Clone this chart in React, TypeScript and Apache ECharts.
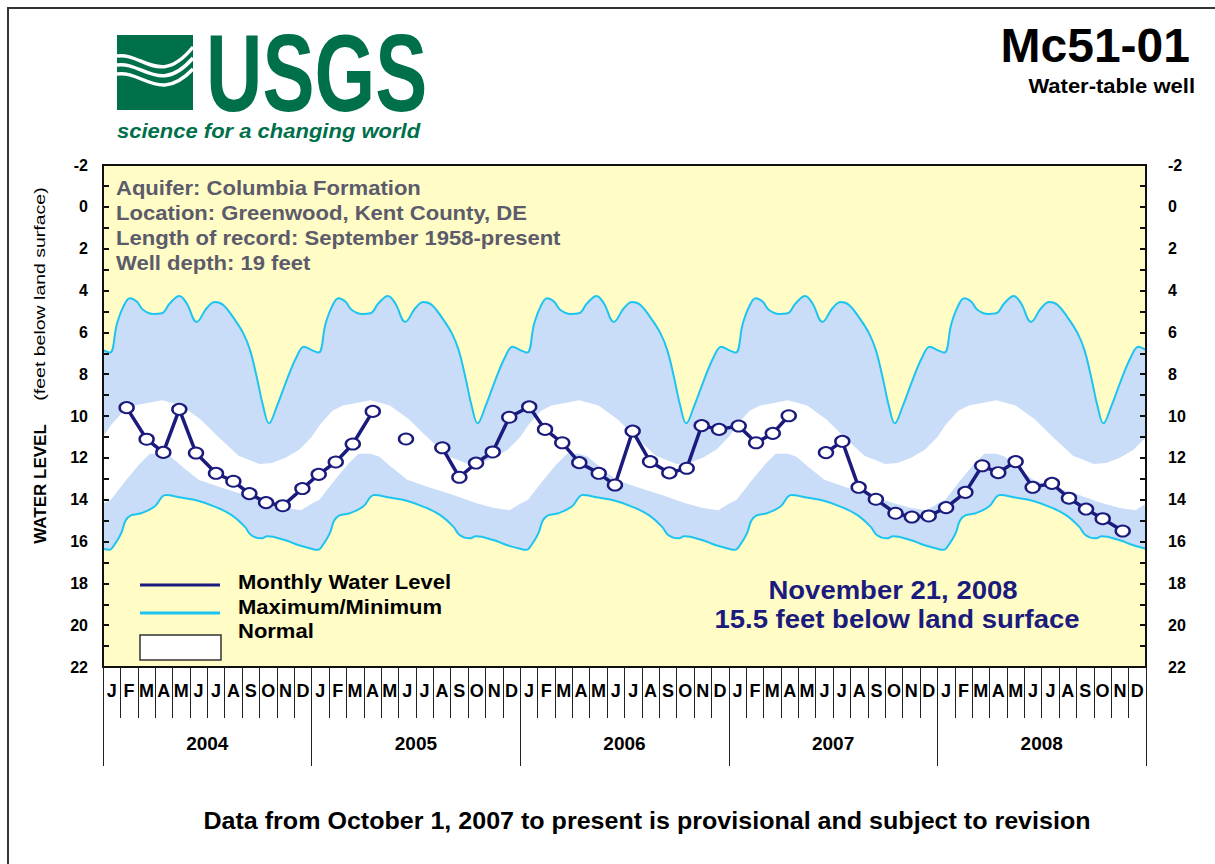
import React, { useEffect, useRef } from 'react';
import * as echarts from 'echarts';

// ---- Axis categories ----
const MONTH_LETTERS = ['J', 'F', 'M', 'A', 'M', 'J', 'J', 'A', 'S', 'O', 'N', 'D'];
const YEARS = ['2004', '2005', '2006', '2007', '2008'];
const Y_MIN = -2;
const Y_MAX = 22;

// ---- Period-of-record statistics by time of year (months after Jan 1, depth in ft) ----
const MAX_T = [0, 0.4, 0.8, 1.17, 1.55, 1.94, 2.32, 2.9, 3.38, 3.85, 4.39, 4.81, 5.39, 5.96, 6.44, 6.92, 7.5, 8.07, 8.46, 8.84, 9.22, 9.55, 9.99, 10.57, 11.14, 11.56];
const MAX_V = [6.85, 6.97, 5.6, 4.77, 4.37, 4.53, 4.93, 5.12, 5.09, 4.61, 4.26, 4.61, 5.5, 4.85, 4.55, 4.69, 5.3, 6.05, 6.85, 8.12, 9.56, 10.35, 9.56, 8.28, 7.17, 6.69];

const MIN_T = [0, 0.35, 0.7, 1.05, 1.3, 1.6, 2.2, 2.97, 3.6, 4.5, 5.47, 6.42, 7.38, 8.15, 8.53, 9.1, 9.45, 10.45, 11.22];
const MIN_V = [16.35, 16.4, 16.1, 15.6, 15.0, 14.75, 14.65, 14.33, 13.78, 13.9, 14.05, 14.33, 14.73, 15.29, 15.7, 15.85, 15.75, 15.93, 16.17];

const NORMAL_TOP_T = [0, 0.5, 1.2, 1.8, 3.4, 4.5, 5.6, 6.7, 7.8, 9.0, 9.7, 10.5, 11.3];
const NORMAL_TOP_V = [11.0, 10.4, 9.75, 9.5, 9.25, 9.5, 10.15, 11.05, 11.9, 12.3, 12.25, 12.0, 11.6];

const NORMAL_BOTTOM_T = [0, 0.45, 1.3, 2.1, 2.7, 3.4, 3.9, 4.6, 5.5, 6.7, 8.07, 9.4, 10.5, 11.4];
const NORMAL_BOTTOM_V = [14.2, 14.0, 13.1, 12.3, 11.8, 11.8, 11.95, 12.45, 13.05, 13.4, 13.75, 14.15, 14.4, 14.5];

// ---- Monthly measurements (months after Jan 1 2004, depth in ft; null = no measurement) ----
const OBS_T = [1.36, 2.51, 3.47, 4.39, 5.35, 6.5, 7.5, 8.42, 9.38, 10.34, 11.47, 12.41, 13.39, 14.37, 15.52, 16.45, 17.43, 18.45, 19.52, 20.5, 21.46, 22.42, 23.37, 24.52, 25.43, 26.42, 27.4, 28.52, 29.45, 30.47, 31.47, 32.58, 33.58, 34.44, 35.44, 36.57, 37.57, 38.53, 39.45, 40.5, 41.59, 42.53, 43.47, 44.46, 45.59, 46.53, 47.5, 48.5, 49.61, 50.58, 51.5, 52.5, 53.48, 54.59, 55.57, 56.55, 57.51, 58.66];
const OBS_LEVEL = [9.6, 11.11, 11.74, 9.68, 11.77, 12.74, 13.12, 13.71, 14.14, 14.29, 13.47, 12.79, 12.2, 11.34, 9.78, null, 11.1, null, 11.52, 12.93, 12.25, 11.72, 10.06, 9.56, 10.64, 11.28, 12.23, 12.74, 13.3, 10.72, 12.18, 12.72, 12.5, 10.46, 10.64, 10.48, 11.28, 10.83, 9.99, null, 11.75, 11.21, 13.41, 13.98, 14.65, 14.83, 14.78, 14.38, 13.65, 12.38, 12.71, 12.18, 13.41, 13.22, 13.93, 14.45, 14.91, 15.5];

const FONT = '"Liberation Sans", Arial, Helvetica, sans-serif';
const NAVY = '#1b1b7d';
const CYAN = '#1ec4f0';
const BLUE_FILL = '#c9ddf8';
const YELLOW = '#fffcc6';
const GREEN = '#00704a';

function acrossYears(ts: number[], vs: number[]) {
  const out: [number, number][] = [];
  YEARS.forEach((_, y) => ts.forEach((t, i) => out.push([y * 12 + t, vs[i]])));
  out.push([YEARS.length * 12, vs[0]]);
  return out;
}

const monthCats = YEARS.flatMap((y) => MONTH_LETTERS.map((m, i) => `${y}-${i}`));

export default function App() {
  const ref = useRef<HTMLDivElement>(null);

  useEffect(() => {
    if (!ref.current) return;
    const chart = echarts.init(ref.current, null, { renderer: 'svg' });

    const obsData = OBS_T.map((t, i) => [t, OBS_LEVEL[i] === null ? '-' : OBS_LEVEL[i]]);

    const txt = (text: string, x: number, y: number, font: string, fill: string, align = 'left', extra: any = {}) => ({
      type: 'text',
      x,
      y,
      z: 100,
      silent: true,
      ...extra,
      style: { text, font, fill, textAlign: align, textVerticalAlign: 'middle' },
    });

    const yAxisBase = {
      type: 'value',
      inverse: true,
      min: Y_MIN,
      max: Y_MAX,
      interval: 1,
      z: 10,
      axisLine: { show: true, onZero: false, lineStyle: { color: '#111', width: 2 } },
      axisTick: { show: true, inside: true, length: 6, lineStyle: { color: '#111', width: 2 } },
      splitLine: { show: false },
    };
    const yLabel = {
      formatter: (v: number) => (v % 2 === 0 ? String(v) : ''),
      fontWeight: 'bold',
      fontSize: 16,
      color: '#000',
      fontFamily: FONT,
    };

    const option: any = {
      animation: false,
      backgroundColor: '#ffffff',
      grid: {
        left: 103,
        top: 165,
        width: 1043,
        height: 502,
        show: true,
        backgroundColor: YELLOW,
        borderColor: '#111',
        borderWidth: 2,
      },
      xAxis: [
        {
          type: 'value',
          min: 0,
          max: 60,
          position: 'top',
          z: 10,
          axisLine: { show: true, onZero: false, lineStyle: { color: '#111', width: 2 } },
          axisTick: { show: false },
          axisLabel: { show: false },
          splitLine: { show: false },
        },
        {
          type: 'category',
          data: monthCats,
          position: 'bottom',
          boundaryGap: true,
          z: 10,
          axisLine: { show: true, onZero: false, lineStyle: { color: '#111', width: 2 } },
          axisTick: { show: true, interval: 0, length: 51, lineStyle: { color: '#222', width: 1 } },
          axisLabel: {
            interval: 0,
            margin: 15,
            fontWeight: 'bold',
            fontSize: 18,
            color: '#000',
            fontFamily: FONT,
            formatter: (_: string, i: number) => MONTH_LETTERS[i % 12],
          },
          splitLine: { show: false },
        },
        {
          type: 'category',
          data: YEARS,
          position: 'bottom',
          offset: 51,
          boundaryGap: true,
          z: 10,
          axisLine: { show: false, onZero: false },
          axisTick: { show: true, interval: 0, length: 48, lineStyle: { color: '#222', width: 1 } },
          axisLabel: { interval: 0, margin: 16, fontWeight: 'bold', fontSize: 19, color: '#000', fontFamily: FONT },
          splitLine: { show: false },
        },
      ],
      yAxis: [
        { ...yAxisBase, position: 'left', axisLabel: { ...yLabel, margin: 15 } },
        { ...yAxisBase, position: 'right', axisLabel: { ...yLabel, margin: 22 } },
      ],
      series: [
        {
          name: 'Maximum',
          type: 'line',
          xAxisIndex: 0,
          yAxisIndex: 0,
          data: acrossYears(MAX_T, MAX_V),
          smooth: 0.4,
          showSymbol: false,
          silent: true,
          lineStyle: { color: CYAN, width: 2 },
          areaStyle: { color: BLUE_FILL, opacity: 1, origin: 'end' },
          z: 2,
        },
        {
          name: 'Normal top',
          type: 'line',
          xAxisIndex: 0,
          yAxisIndex: 0,
          data: acrossYears(NORMAL_TOP_T, NORMAL_TOP_V),
          showSymbol: false,
          silent: true,
          lineStyle: { width: 0, color: '#ffffff' },
          areaStyle: { color: '#ffffff', opacity: 1, origin: 'end' },
          z: 2,
        },
        {
          name: 'Normal bottom',
          type: 'line',
          xAxisIndex: 0,
          yAxisIndex: 0,
          data: acrossYears(NORMAL_BOTTOM_T, NORMAL_BOTTOM_V),
          showSymbol: false,
          silent: true,
          lineStyle: { width: 0, color: BLUE_FILL },
          areaStyle: { color: BLUE_FILL, opacity: 1, origin: 'end' },
          z: 2,
        },
        {
          name: 'Minimum',
          type: 'line',
          xAxisIndex: 0,
          yAxisIndex: 0,
          data: acrossYears(MIN_T, MIN_V),
          smooth: 0.4,
          showSymbol: false,
          silent: true,
          lineStyle: { color: CYAN, width: 2 },
          areaStyle: { color: YELLOW, opacity: 1, origin: 'end' },
          z: 2,
        },
        {
          name: 'Monthly Water Level',
          type: 'line',
          xAxisIndex: 0,
          yAxisIndex: 0,
          data: obsData,
          connectNulls: false,
          showSymbol: true,
          symbol: 'circle',
          symbolSize: [14, 11],
          lineStyle: { color: NAVY, width: 3.5 },
          itemStyle: { color: '#ffffff', borderColor: NAVY, borderWidth: 2.2 },
          z: 5,
        },
      ],
      graphic: [
        // frame
        { type: 'rect', z: 100, silent: true, shape: { x: 8, y: 8, width: 1400, height: 1000 }, style: { fill: 'none', stroke: '#333', lineWidth: 2 } },
        // USGS emblem
        { type: 'rect', z: 100, silent: true, shape: { x: 117, y: 35, width: 76, height: 75 }, style: { fill: GREEN } },
        { type: 'bezierCurve', z: 101, silent: true, shape: { x1: 117, y1: 56, cpx1: 142, cpy1: 52, cpx2: 160, cpy2: 88, x2: 193, y2: 47 }, style: { stroke: '#fff', lineWidth: 3.5, fill: 'none' } },
        { type: 'bezierCurve', z: 101, silent: true, shape: { x1: 117, y1: 65, cpx1: 142, cpy1: 61, cpx2: 160, cpy2: 96, x2: 193, y2: 58 }, style: { stroke: '#fff', lineWidth: 3.5, fill: 'none' } },
        { type: 'bezierCurve', z: 101, silent: true, shape: { x1: 117, y1: 74, cpx1: 142, cpy1: 70, cpx2: 160, cpy2: 104, x2: 193, y2: 69 }, style: { stroke: '#fff', lineWidth: 3.5, fill: 'none' } },
        txt('USGS', 206, 73, `bold 110px ${FONT}`, GREEN, 'left', { scaleX: 0.71 }),
        txt('science for a changing world', 117, 131, `italic bold 20px ${FONT}`, GREEN, 'left', { scaleX: 1.1 }),
        // title
        txt('Mc51-01', 1190, 45, `bold 48px ${FONT}`, '#000', 'right'),
        txt('Water-table well', 1195, 86, `bold 20px ${FONT}`, '#000', 'right', { scaleX: 1.1 }),
        // site info
        txt('Aquifer: Columbia Formation', 116, 188, `bold 21px ${FONT}`, '#5b5b6b', 'left', { scaleX: 1.05 }),
        txt('Location: Greenwood, Kent County, DE', 116, 213, `bold 21px ${FONT}`, '#5b5b6b', 'left', { scaleX: 1.05 }),
        txt('Length of record: September 1958-present', 116, 238, `bold 21px ${FONT}`, '#5b5b6b', 'left', { scaleX: 1.05 }),
        txt('Well depth: 19 feet', 116, 263, `bold 21px ${FONT}`, '#5b5b6b', 'left', { scaleX: 1.05 }),
        // y-axis title
        txt('WATER LEVEL', 40, 484, `bold 17px ${FONT}`, '#000', 'center', { rotation: Math.PI / 2 }),
        txt('(feet below land surface)', 40, 294, `15px ${FONT}`, '#000', 'center', { rotation: Math.PI / 2, scaleX: 1.3 }),
        // legend
        { type: 'line', z: 100, silent: true, shape: { x1: 140, y1: 585, x2: 220, y2: 585 }, style: { stroke: NAVY, lineWidth: 3 } },
        { type: 'line', z: 100, silent: true, shape: { x1: 140, y1: 613, x2: 220, y2: 613 }, style: { stroke: CYAN, lineWidth: 3 } },
        { type: 'rect', z: 100, silent: true, shape: { x: 140, y: 635, width: 81, height: 25 }, style: { fill: '#fff', stroke: '#333', lineWidth: 1.5 } },
        txt('Monthly Water Level', 238, 582, `bold 20px ${FONT}`, '#000', 'left', { scaleX: 1.1 }),
        txt('Maximum/Minimum', 238, 607, `bold 20px ${FONT}`, '#000', 'left', { scaleX: 1.1 }),
        txt('Normal', 238, 631, `bold 20px ${FONT}`, '#000', 'left', { scaleX: 1.1 }),
        // latest reading
        txt('November 21, 2008', 893, 590, `bold 25px ${FONT}`, NAVY, 'center', { scaleX: 1.1 }),
        txt('15.5 feet below land surface', 897, 619, `bold 25px ${FONT}`, NAVY, 'center', { scaleX: 1.1 }),
        // note
        txt('Data from October 1, 2007 to present is provisional and subject to revision', 647, 821, `bold 23px ${FONT}`, '#000', 'center', { scaleX: 1.09 }),
      ],
    };

    chart.setOption(option);
    return () => chart.dispose();
  }, []);

  return (
    <div
      ref={ref}
      style={{ position: 'absolute', left: 0, top: 0, width: 1215, height: 864, background: '#fff' }}
    />
  );
}
